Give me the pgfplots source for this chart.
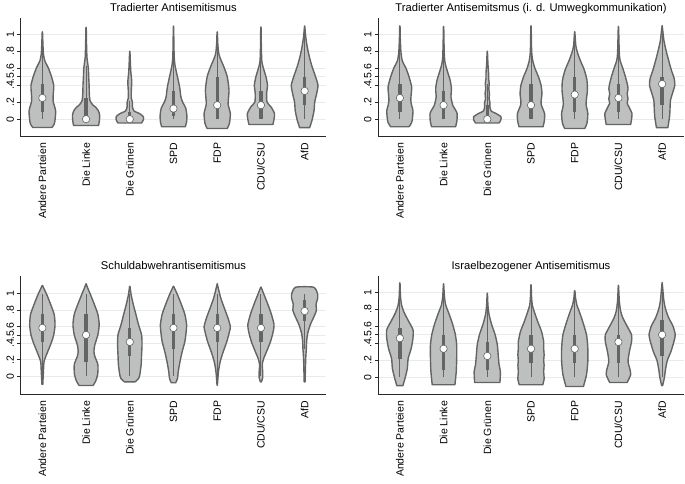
\documentclass[border=0pt]{standalone}
\usepackage{fontspec}
\setmainfont{Liberation Sans}
\usepackage{pgfplots}
\pgfplotsset{compat=1.18}
\usepackage{pgfplotstable}
\definecolor{vfill}{RGB}{190,192,192}
\definecolor{vline}{RGB}{100,100,100}
\definecolor{gridc}{RGB}{234,234,234}
\definecolor{axc}{RGB}{40,40,40}

% ---------- violin outlines: y, half-width (right side, bottom to top) ----------
% Tradierter Antisemitismus
\pgfplotstableread[row sep=\\]{y w\\ -0.098 0.22\\ -0.06 0.27\\ -0.01 0.29\\ 0.09 0.305\\ 0.15 0.28\\ 0.2 0.25\\ 0.26 0.245\\ 0.33 0.255\\ 0.4 0.26\\ 0.5 0.21\\ 0.6 0.14\\ 0.69 0.055\\ 0.77 0.025\\ 0.9 0.012\\ 1.02 0.004\\}\TLa
\pgfplotstableread[row sep=\\]{y w\\ -0.075 0.285\\ -0.02 0.305\\ 0.05 0.31\\ 0.1 0.28\\ 0.14 0.22\\ 0.17 0.15\\ 0.22 0.09\\ 0.3 0.075\\ 0.4 0.07\\ 0.5 0.06\\ 0.58 0.055\\ 0.65 0.04\\ 0.73 0.02\\ 0.9 0.01\\ 1.07 0.004\\}\TLb
\pgfplotstableread[row sep=\\]{y w\\ -0.045 0.27\\ -0.01 0.31\\ 0.03 0.31\\ 0.067 0.22\\ 0.095 0.1\\ 0.145 0.06\\ 0.2 0.06\\ 0.25 0.035\\ 0.34 0.035\\ 0.44 0.045\\ 0.55 0.025\\ 0.65 0.015\\ 0.79 0.004\\}\TLc
\pgfplotstableread[row sep=\\]{y w\\ -0.09 0.27\\ -0.03 0.3\\ 0.05 0.305\\ 0.13 0.28\\ 0.2 0.21\\ 0.26 0.17\\ 0.38 0.14\\ 0.5 0.09\\ 0.62 0.04\\ 0.7 0.02\\ 0.85 0.01\\ 1.08 0.004\\}\TLd
\pgfplotstableread[row sep=\\]{y w\\ -0.11 0.23\\ -0.05 0.28\\ 0.067 0.30\\ 0.18 0.25\\ 0.34 0.27\\ 0.5 0.23\\ 0.62 0.15\\ 0.73 0.06\\ 0.79 0.03\\ 0.9 0.012\\ 1.02 0.004\\}\TLe
\pgfplotstableread[row sep=\\]{y w\\ -0.063 0.275\\ 0.0 0.3\\ 0.067 0.31\\ 0.145 0.23\\ 0.2 0.14\\ 0.3 0.13\\ 0.4 0.15\\ 0.5 0.115\\ 0.62 0.046\\ 0.69 0.02\\ 0.85 0.01\\ 1.07 0.004\\}\TLf
\pgfplotstableread[row sep=\\]{y w\\ -0.1 0.115\\ -0.01 0.17\\ 0.1 0.215\\ 0.2 0.23\\ 0.3 0.275\\ 0.4 0.305\\ 0.5 0.25\\ 0.62 0.17\\ 0.73 0.11\\ 0.85 0.06\\ 0.97 0.025\\ 1.09 0.004\\}\TLg
% Tradierter Antisemitismus (Umwegkommunikation)
\pgfplotstableread[row sep=\\]{y w\\ -0.09 0.21\\ -0.04 0.27\\ 0.02 0.29\\ 0.1 0.30\\ 0.16 0.27\\ 0.22 0.25\\ 0.3 0.26\\ 0.38 0.27\\ 0.5 0.21\\ 0.6 0.14\\ 0.69 0.055\\ 0.79 0.025\\ 0.95 0.01\\ 1.09 0.004\\}\TRa
\pgfplotstableread[row sep=\\]{y w\\ -0.09 0.275\\ -0.02 0.305\\ 0.067 0.31\\ 0.12 0.26\\ 0.165 0.21\\ 0.26 0.17\\ 0.36 0.18\\ 0.46 0.15\\ 0.56 0.09\\ 0.65 0.04\\ 0.73 0.02\\ 0.9 0.01\\ 1.08 0.004\\}\TRb
\pgfplotstableread[row sep=\\]{y w\\ -0.045 0.27\\ -0.01 0.31\\ 0.03 0.31\\ 0.067 0.2\\ 0.095 0.09\\ 0.145 0.06\\ 0.2 0.06\\ 0.24 0.04\\ 0.3 0.05\\ 0.36 0.035\\ 0.42 0.045\\ 0.48 0.03\\ 0.54 0.03\\ 0.65 0.015\\ 0.79 0.004\\}\TRc
\pgfplotstableread[row sep=\\]{y w\\ -0.09 0.275\\ -0.02 0.305\\ 0.067 0.31\\ 0.18 0.23\\ 0.3 0.25\\ 0.4 0.23\\ 0.5 0.17\\ 0.6 0.09\\ 0.69 0.04\\ 0.8 0.015\\ 1.08 0.004\\}\TRd
\pgfplotstableread[row sep=\\]{y w\\ -0.11 0.23\\ -0.05 0.28\\ 0.067 0.30\\ 0.18 0.26\\ 0.34 0.29\\ 0.46 0.28\\ 0.58 0.22\\ 0.69 0.13\\ 0.79 0.06\\ 0.87 0.025\\ 1.02 0.004\\}\TRe
\pgfplotstableread[row sep=\\]{y w\\ -0.063 0.28\\ 0.0 0.3\\ 0.067 0.31\\ 0.145 0.24\\ 0.19 0.2\\ 0.24 0.22\\ 0.3 0.2\\ 0.36 0.22\\ 0.42 0.2\\ 0.5 0.16\\ 0.6 0.1\\ 0.69 0.04\\ 0.78 0.02\\ 1.07 0.004\\}\TRf
\pgfplotstableread[row sep=\\]{y w\\ -0.1 0.13\\ 0.03 0.17\\ 0.12 0.18\\ 0.22 0.19\\ 0.32 0.245\\ 0.4 0.29\\ 0.48 0.275\\ 0.58 0.21\\ 0.69 0.15\\ 0.81 0.09\\ 0.93 0.04\\ 1.09 0.004\\}\TRg
% Schuldabwehrantisemitismus
\pgfplotstableread[row sep=\\]{y w\\ -0.1 0.01\\ 0.06 0.025\\ 0.18 0.04\\ 0.28 0.11\\ 0.4 0.2\\ 0.5 0.26\\ 0.62 0.29\\ 0.75 0.27\\ 0.87 0.19\\ 0.99 0.1\\ 1.07 0.03\\ 1.1 0.004\\}\BLa
\pgfplotstableread[row sep=\\]{y w\\ -0.113 0.16\\ -0.06 0.22\\ 0.02 0.265\\ 0.14 0.27\\ 0.24 0.2\\ 0.3 0.18\\ 0.38 0.2\\ 0.5 0.27\\ 0.625 0.3\\ 0.75 0.27\\ 0.87 0.19\\ 0.99 0.1\\ 1.08 0.03\\ 1.12 0.004\\}\BLb
\pgfplotstableread[row sep=\\]{y w\\ -0.07 0.12\\ -0.03 0.2\\ 0.02 0.23\\ 0.14 0.26\\ 0.26 0.27\\ 0.38 0.28\\ 0.5 0.27\\ 0.625 0.2\\ 0.75 0.14\\ 0.87 0.08\\ 0.99 0.03\\ 1.09 0.004\\}\BLc
\pgfplotstableread[row sep=\\]{y w\\ -0.08 0.05\\ -0.03 0.09\\ 0.06 0.11\\ 0.18 0.15\\ 0.3 0.2\\ 0.42 0.26\\ 0.54 0.29\\ 0.625 0.3\\ 0.75 0.26\\ 0.87 0.18\\ 0.99 0.09\\ 1.09 0.004\\}\BLd
\pgfplotstableread[row sep=\\]{y w\\ -0.11 0.004\\ 0.06 0.03\\ 0.18 0.07\\ 0.3 0.14\\ 0.42 0.22\\ 0.54 0.28\\ 0.6 0.3\\ 0.7 0.25\\ 0.83 0.16\\ 0.95 0.08\\ 1.11 0.004\\}\BLe
\pgfplotstableread[row sep=\\]{y w\\ -0.07 0.01\\ -0.02 0.04\\ 0.06 0.04\\ 0.14 0.03\\ 0.21 0.06\\ 0.3 0.13\\ 0.42 0.22\\ 0.54 0.28\\ 0.625 0.3\\ 0.75 0.24\\ 0.87 0.16\\ 0.99 0.07\\ 1.08 0.004\\}\BLf
\pgfplotstableread[row sep=\\]{y w\\ -0.07 0.01\\ 0.22 0.025\\ 0.34 0.04\\ 0.42 0.045\\ 0.52 0.07\\ 0.625 0.13\\ 0.73 0.22\\ 0.8 0.27\\ 0.87 0.26\\ 0.95 0.3\\ 1.01 0.29\\ 1.08 0.2\\}\BLg
% Israelbezogener Antisemitismus
\pgfplotstableread[row sep=\\]{y w\\ -0.1 0.07\\ -0.01 0.12\\ 0.1 0.17\\ 0.22 0.19\\ 0.34 0.26\\ 0.46 0.3\\ 0.56 0.3\\ 0.66 0.2\\ 0.76 0.1\\ 0.85 0.04\\ 0.95 0.015\\ 1.1 0.004\\}\BRa
\pgfplotstableread[row sep=\\]{y w\\ -0.09 0.26\\ 0.067 0.29\\ 0.22 0.3\\ 0.38 0.3\\ 0.5 0.27\\ 0.62 0.21\\ 0.74 0.13\\ 0.85 0.05\\ 0.95 0.02\\ 1.09 0.004\\}\BRb
\pgfplotstableread[row sep=\\]{y w\\ -0.063 0.29\\ 0.067 0.3\\ 0.145 0.27\\ 0.26 0.25\\ 0.38 0.23\\ 0.5 0.18\\ 0.62 0.1\\ 0.74 0.04\\ 0.85 0.015\\ 0.98 0.004\\}\BRc
\pgfplotstableread[row sep=\\]{y w\\ -0.09 0.27\\ -0.02 0.3\\ 0.067 0.29\\ 0.14 0.3\\ 0.2 0.29\\ 0.26 0.3\\ 0.34 0.29\\ 0.42 0.29\\ 0.54 0.24\\ 0.66 0.15\\ 0.78 0.07\\ 0.85 0.03\\ 0.95 0.012\\ 1.08 0.004\\}\BRd
\pgfplotstableread[row sep=\\]{y w\\ -0.11 0.2\\ 0.03 0.27\\ 0.185 0.3\\ 0.34 0.3\\ 0.5 0.27\\ 0.66 0.18\\ 0.78 0.1\\ 0.85 0.05\\ 0.93 0.02\\ 1.02 0.004\\}\BRe
\pgfplotstableread[row sep=\\]{y w\\ -0.063 0.2\\ 0.03 0.28\\ 0.1 0.26\\ 0.185 0.22\\ 0.3 0.25\\ 0.42 0.3\\ 0.5 0.3\\ 0.6 0.2\\ 0.7 0.1\\ 0.78 0.05\\ 0.9 0.02\\ 1.07 0.004\\}\BRf
\pgfplotstableread[row sep=\\]{y w\\ -0.1 0.01\\ -0.01 0.05\\ 0.1 0.08\\ 0.2 0.12\\ 0.3 0.2\\ 0.42 0.27\\ 0.5 0.3\\ 0.6 0.25\\ 0.7 0.15\\ 0.8 0.08\\ 0.9 0.04\\ 1.1 0.004\\}\BRg

% turn a half outline into a closed outline: right side upwards, then left side downwards
\newcommand{\mkviolin}[1]{%
  \pgfplotstablesort[sort key=y, sort cmp={float >}]{\tmprev}{#1}%
  \pgfplotstablecreatecol[create col/set={-1}]{s}{\tmprev}%
  \pgfplotstablecreatecol[create col/set={1}]{s}{#1}%
  \pgfplotstablevertcat{#1}{\tmprev}%
}
\mkviolin{\TLa}\mkviolin{\TLb}\mkviolin{\TLc}\mkviolin{\TLd}\mkviolin{\TLe}\mkviolin{\TLf}\mkviolin{\TLg}
\mkviolin{\TRa}\mkviolin{\TRb}\mkviolin{\TRc}\mkviolin{\TRd}\mkviolin{\TRe}\mkviolin{\TRf}\mkviolin{\TRg}
\mkviolin{\BLa}\mkviolin{\BLb}\mkviolin{\BLc}\mkviolin{\BLd}\mkviolin{\BLe}\mkviolin{\BLf}\mkviolin{\BLg}
\mkviolin{\BRa}\mkviolin{\BRb}\mkviolin{\BRc}\mkviolin{\BRd}\mkviolin{\BRe}\mkviolin{\BRf}\mkviolin{\BRg}

% #1 x, #2 table, #3 whisker low, #4 whisker high, #5 q1, #6 q3, #7 median
\newcommand{\violin}[7]{%
  \addplot[fill=vfill, draw=vline, line width=1.4pt, line join=round, smooth, tension=0.4] table[x expr=#1+\thisrow{s}*\thisrow{w}, y=y] {#2} -- cycle;
  \addplot[draw=vline, line width=1pt] coordinates {(#1,#3) (#1,#4)};
  \addplot[draw=vline, line width=3.4pt] coordinates {(#1,#5) (#1,#6)};
  \addplot[only marks, mark=*, mark size=3.7pt, mark options={fill=white, draw=vline, line width=0.6pt}] coordinates {(#1,#7)};
}

\pgfplotsset{vstyle/.style={
  scale only axis, width=306pt, height=118pt,
  xmin=0.5, xmax=7.5, ymin=-0.204, ymax=1.188,
  axis x line=bottom, axis y line=left,
  axis line style={-, draw=axc, line width=0.9pt},
  xtick={1,2,3,4,5,6,7},
  xticklabels={Andere Parteien,Die Linke,Die Grünen,SPD,FDP,CDU/CSU,AfD},
  major x tick style={draw=none},
  xticklabel style={rotate=90, anchor=east, font=\fontsize{10.5}{12}\selectfont},
  ytick={0,0.2,0.4,0.5,0.6,0.8,1},
  yticklabels={0,.2,.4,.5,.6,.8,1},
  yticklabel style={rotate=90, anchor=south, font=\fontsize{10.5}{12}\selectfont},
  tick align=outside, major tick length=3pt, tick style={draw=axc, line width=0.6pt},
  ymajorgrids, major grid style={draw=gridc, line width=0.9pt},
  title style={at={(0.5,1)}, anchor=base, yshift=1pt, font=\fontsize{11.2}{13}\selectfont},
}}

\begin{document}
\begin{tikzpicture}
\path (0,0) rectangle (685pt,-482pt);

\begin{axis}[vstyle, at={(20.5pt,-135pt)}, anchor=south west, title={Tradierter Antisemitismus}]
\violin{1}{\TLa}{0}{0.92}{0.083}{0.417}{0.25}
\violin{2}{\TLb}{0}{0.625}{0}{0.25}{0}
\violin{3}{\TLc}{0}{0.21}{0}{0.083}{0}
\violin{4}{\TLd}{0}{0.75}{0.04}{0.33}{0.125}
\violin{5}{\TLe}{0}{1}{0}{0.5}{0.165}
\violin{6}{\TLf}{0}{0.75}{0}{0.33}{0.165}
\violin{7}{\TLg}{0}{1}{0.17}{0.5}{0.333}
\end{axis}

\begin{axis}[vstyle, at={(378pt,-135pt)}, anchor=south west, title={Tradierter Antisemitsmus (i. d. Umwegkommunikation)}]
\violin{1}{\TRa}{0}{0.92}{0.083}{0.417}{0.25}
\violin{2}{\TRb}{0}{0.75}{0}{0.33}{0.165}
\violin{3}{\TRc}{0}{0.42}{0}{0.17}{0}
\violin{4}{\TRd}{0}{0.9}{0}{0.42}{0.165}
\violin{5}{\TRe}{0}{1}{0.083}{0.5}{0.29}
\violin{6}{\TRf}{0}{0.83}{0.083}{0.42}{0.25}
\violin{7}{\TRg}{0}{1}{0.17}{0.5}{0.415}
\end{axis}

\begin{axis}[vstyle, at={(20.5pt,-393pt)}, anchor=south west, ymin=-0.222, ymax=1.21, title={Schuldabwehrantisemitismus}]
\violin{1}{\BLa}{0}{1}{0.42}{0.75}{0.585}
\violin{2}{\BLb}{0}{1}{0.17}{0.75}{0.5}
\violin{3}{\BLc}{0}{1}{0.25}{0.58}{0.415}
\violin{4}{\BLd}{0}{1}{0.33}{0.75}{0.585}
\violin{5}{\BLe}{0}{1}{0.42}{0.75}{0.585}
\violin{6}{\BLf}{0}{1}{0.42}{0.75}{0.585}
\violin{7}{\BLg}{0.33}{1}{0.67}{0.92}{0.79}
\end{axis}

\begin{axis}[vstyle, at={(378pt,-393pt)}, anchor=south west, title={Israelbezogener Antisemitismus}]
\violin{1}{\BRa}{0}{1}{0.21}{0.58}{0.46}
\violin{2}{\BRb}{0}{1}{0.083}{0.5}{0.335}
\violin{3}{\BRc}{0}{0.83}{0.083}{0.42}{0.25}
\violin{4}{\BRd}{0}{1}{0.17}{0.5}{0.335}
\violin{5}{\BRe}{0}{1}{0.17}{0.5}{0.335}
\violin{6}{\BRf}{0}{1}{0.17}{0.5}{0.415}
\violin{7}{\BRg}{0}{1}{0.25}{0.67}{0.5}
\end{axis}
\end{tikzpicture}
\end{document}
